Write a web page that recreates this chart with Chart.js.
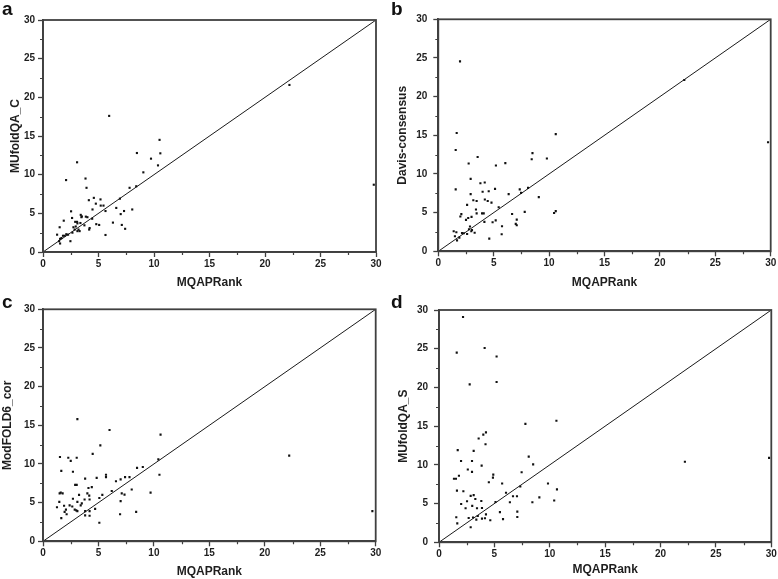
<!DOCTYPE html>
<html><head><meta charset="utf-8">
<script src="https://cdn.jsdelivr.net/npm/chart.js@4.4.1/dist/chart.umd.min.js"></script>
<style>
html,body{margin:0;padding:0;background:#fff;}
#wrap{position:relative;width:778px;height:579px;overflow:hidden;background:#fff;}
canvas{position:absolute;}
.lbl{position:absolute;font-family:"Liberation Sans",Arial,sans-serif;font-weight:bold;font-size:19px;line-height:19px;color:#111;}
</style></head><body>
<div id="wrap">
<canvas id="ca" width="389" height="290" style="left:0px;top:0px"></canvas>
<canvas id="cb" width="389" height="290" style="left:389px;top:0px"></canvas>
<canvas id="cc" width="389" height="290" style="left:0px;top:289px"></canvas>
<canvas id="cd" width="389" height="290" style="left:389px;top:289px"></canvas>
<div class="lbl" style="left:2px;top:-1px">a</div>
<div class="lbl" style="left:391px;top:-1px">b</div>
<div class="lbl" style="left:2px;top:292px">c</div>
<div class="lbl" style="left:391px;top:292px">d</div>
</div>
<script>
// ---- data ----
const mqapRankA = [1.27,1.45,1.5,1.54,1.54,1.66,1.8,1.87,1.96,2.08,2.1,2.26,2.47,2.53,2.62,2.65,2.74,2.85,2.9,2.95,3.07,3.07,3.1,3.1,3.2,3.3,3.37,3.4,3.46,3.5,3.73,3.83,3.86,3.92,4.0,4.13,4.16,4.2,4.43,4.46,4.58,4.76,4.8,5.06,5.18,5.2,5.45,5.63,5.63,5.96,6.3,6.6,6.93,7.0,7.1,7.3,7.4,7.8,8.04,8.4,8.46,9.04,9.73,10.36,10.5,10.57,22.2,29.8];
const mufoldQA_C = [2.24,1.4,3.2,1.7,1.1,1.8,2.1,4.05,2.1,9.3,2.3,2.24,1.4,5.26,4.4,2.5,3.2,2.9,3.9,3.3,3.9,11.6,2.7,3.7,2.9,2.7,3.75,4.8,4.5,4.6,3.45,9.5,4.57,8.3,4.5,6.7,2.9,3.1,4.3,5.5,7.0,6.25,3.6,3.5,6.8,6.0,6.0,5.3,2.2,17.6,3.8,5.7,6.9,4.9,3.5,5.3,3.0,8.3,5.5,8.5,12.8,10.3,12.07,11.2,14.5,12.76,21.6,8.7];

const mqapRankB = [1.39,1.5,1.57,1.57,1.63,1.66,1.69,1.9,1.96,1.99,2.08,2.14,2.3,2.5,2.6,2.6,2.7,2.74,2.77,2.86,2.92,2.92,2.98,3.0,3.04,3.16,3.28,3.4,3.46,3.46,3.55,3.8,3.95,4.0,4.1,4.16,4.19,4.2,4.46,4.55,4.6,4.8,4.9,5.12,5.18,5.2,5.45,5.72,5.75,6.05,6.35,6.66,6.99,7.08,7.08,7.35,7.47,7.8,8.1,8.43,8.5,9.07,9.8,10.45,10.6,10.6,22.2,29.76];
const davisConsensus = [2.6,1.94,13.1,8.0,2.46,15.3,1.42,1.77,24.56,4.5,4.8,2.37,2.33,4.06,6.0,2.24,4.3,11.35,2.85,3.2,9.37,7.4,2.6,4.45,2.76,6.6,2.4,5.4,6.5,4.9,12.2,8.8,4.9,7.7,4.9,3.8,8.9,6.7,6.5,7.77,1.64,6.3,3.75,8.07,4.0,11.1,5.7,2.2,3.24,11.4,7.4,4.83,3.54,4.1,3.37,8.0,7.55,5.1,8.2,11.9,12.7,7.0,12.0,4.96,15.15,5.2,22.15,14.1];

const mqapRankC = [1.26,1.47,1.5,1.53,1.6,1.65,1.65,1.77,1.9,1.95,2.07,2.13,2.28,2.4,2.5,2.64,2.7,2.7,2.86,2.9,3.0,3.04,3.04,3.1,3.1,3.1,3.25,3.4,3.5,3.75,3.8,3.8,3.8,4.0,4.1,4.17,4.2,4.2,4.2,4.4,4.48,4.7,4.84,5.08,5.08,5.17,5.35,5.68,5.68,6.0,6.2,6.58,6.95,7.0,7.0,7.1,7.35,7.4,7.8,8.0,8.4,8.48,9.0,9.7,10.4,10.5,10.6,22.2,29.7];
const modFOLD6_cor = [4.4,5.1,6.2,10.9,6.3,9.1,3.0,6.2,4.6,3.8,4.1,3.5,10.8,4.65,10.4,4.5,9.0,5.5,4.1,7.3,4.0,7.3,10.8,3.9,15.8,5.1,6.0,4.65,4.9,5.4,8.1,3.9,3.35,6.2,6.9,5.9,5.4,3.9,3.3,7.0,11.3,4.2,8.2,5.6,2.4,12.4,6.0,8.6,8.3,14.4,6.5,7.76,3.5,8.0,5.2,6.2,6.03,8.3,8.3,6.7,3.8,9.5,9.6,6.3,10.6,8.6,13.8,11.08,3.9];

const mqapRankD = [1.35,1.53,1.56,1.6,1.62,1.65,1.69,1.8,1.99,2.0,2.17,2.2,2.4,2.53,2.6,2.68,2.77,2.86,2.86,2.98,2.98,3.0,3.07,3.13,3.13,3.28,3.37,3.43,3.5,3.58,3.82,3.85,3.88,3.88,4.0,4.12,4.15,4.2,4.24,4.24,4.5,4.63,4.87,4.9,5.1,5.2,5.2,5.5,5.7,5.78,6.05,6.4,6.68,7.04,7.07,7.07,7.34,7.46,7.8,8.1,8.43,8.5,9.06,9.84,10.4,10.6,10.65,22.2,29.8];
const mufoldQA_S = [8.2,8.2,3.23,24.5,6.67,2.45,11.9,8.6,10.5,4.95,29.1,6.6,4.4,5.3,9.4,3.14,20.4,6.0,1.94,10.5,9.1,4.7,3.2,6.1,11.8,5.6,2.93,4.4,3.4,13.4,5.34,9.9,4.43,3.06,13.9,25.1,3.1,12.66,14.2,3.6,7.75,2.84,8.35,8.74,5.2,24.0,20.7,3.9,7.6,3.0,6.4,5.17,5.94,5.94,3.96,3.27,7.2,9.04,15.3,11.06,5.17,10.07,5.8,7.6,5.4,15.7,6.84,10.4,10.9];

const axisRange = [0, 30];
const majorStep = 5;
const diagonal = [0, 30];
const xTitle = 'MQAPRank';
const yTitles = ['MUfoldQA_C', 'Davis-consensus', 'ModFOLD6_cor', 'MUfoldQA_S'];

// ---- drawing ----
const FONT = '"Liberation Sans", Arial, sans-serif';
const AXIS = '#404040';

// frame around plot + short minor ticks halfway between the scale's major ticks
const framePlugin = {
  id: 'frame',
  afterDraw(chart) {
    const {ctx, chartArea: a, scales} = chart;
    ctx.save();
    ctx.strokeStyle = AXIS;
    ctx.lineWidth = 1.8;
    ctx.strokeRect(a.left, a.top, a.right - a.left, a.bottom - a.top);
    ctx.lineWidth = 1.2;
    ctx.beginPath();
    const xt = scales.x.ticks, yt = scales.y.ticks;
    for (let i = 0; i < xt.length - 1; i++) {
      const px = Math.round(scales.x.getPixelForValue((xt[i].value + xt[i + 1].value) / 2)) + 0.5;
      ctx.moveTo(px, a.bottom); ctx.lineTo(px, a.bottom + 3);
    }
    for (let i = 0; i < yt.length - 1; i++) {
      const py = Math.round(scales.y.getPixelForValue((yt[i].value + yt[i + 1].value) / 2)) + 0.5;
      ctx.moveTo(a.left, py); ctx.lineTo(a.left - 3, py);
    }
    ctx.stroke();
    ctx.restore();
  }
};

function makePanel(id, xs, ys, yTitle, g) {
  const pts = xs.map((x, i) => ({x: x, y: ys[i]}));
  const line = diagonal.map(v => ({x: v, y: v}));
  const tickFont = {family: FONT, size: 10, weight: 'bold'};
  const titleFont = {family: FONT, size: 12, weight: 'bold'};
  new Chart(document.getElementById(id), {
    type: 'scatter',
    data: {datasets: [
      {data: line, showLine: true, borderColor: '#1a1a1a', borderWidth: 1, pointRadius: 0, pointHoverRadius: 0, order: 2},
      {data: pts, pointStyle: 'rect', pointRadius: 1.5, pointHoverRadius: 1.5, backgroundColor: '#111', borderWidth: 0, order: 1}
    ]},
    options: {
      responsive: false, animation: false, devicePixelRatio: 1,
      events: [],
      layout: {padding: {left: 0, top: g.top, right: g.right, bottom: 0}},
      plugins: {legend: {display: false}, tooltip: {enabled: false}},
      scales: {
        x: {
          type: 'linear', position: 'bottom', min: axisRange[0], max: axisRange[1],
          afterFit(s) { s.height = g.xh; },
          ticks: {stepSize: majorStep, autoSkip: false, maxRotation: 0, padding: 1, color: '#1e1e1e', font: tickFont},
          grid: {drawOnChartArea: false, tickLength: 5, color: AXIS, tickWidth: 1.3},
          border: {display: true, color: AXIS, width: 1.8},
          title: {display: true, text: xTitle, color: '#1e1e1e', font: titleFont, padding: {top: 0, bottom: g.xtb}}
        },
        y: {
          type: 'linear', position: 'left', min: axisRange[0], max: axisRange[1],
          afterFit(s) { s.width = g.yw; },
          ticks: {stepSize: majorStep, autoSkip: false, padding: g.ytp, color: '#1e1e1e', font: tickFont},
          grid: {drawOnChartArea: false, tickLength: 5, color: AXIS, tickWidth: 1.3},
          border: {display: true, color: AXIS, width: 1.8},
          title: {display: true, text: yTitle, color: '#1e1e1e', font: titleFont, padding: {top: g.ytt, bottom: 0}}
        }
      }
    },
    plugins: [framePlugin]
  });
}

makePanel('ca', mqapRankA, mufoldQA_C, yTitles[0], {top: 20, right: 13, xh: 38, yw: 43, ytp: 3, ytt: 8, xtb: 0});
makePanel('cb', mqapRankB, davisConsensus, yTitles[1], {top: 19.3, right: 7.3, xh: 38.7, yw: 49.3, ytp: 6, ytt: 6.5, xtb: 0});
makePanel('cc', mqapRankC, modFOLD6_cor, yTitles[2], {top: 20.3, right: 13.3, xh: 37.7, yw: 43, ytp: 3, ytt: 0, xtb: 0});
makePanel('cd', mqapRankD, mufoldQA_S, yTitles[3], {top: 21, right: 6.7, xh: 36.7, yw: 50, ytp: 6, ytt: 7, xtb: 2});
</script>
</body></html>
